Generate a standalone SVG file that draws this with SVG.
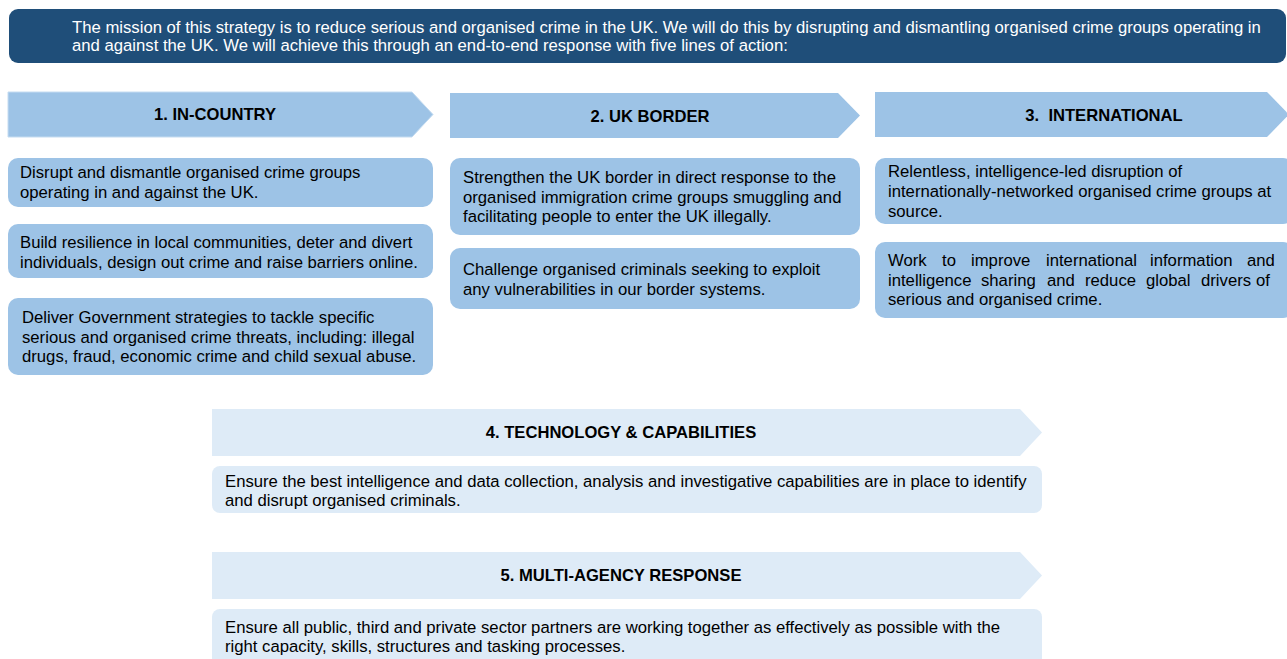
<svg xmlns="http://www.w3.org/2000/svg" width="1287" height="659" viewBox="0 0 1287 659">
<style>
.t{font-family:"Liberation Sans",Arial,sans-serif;font-size:16.7px;fill:#000}
.w{font-family:"Liberation Sans",Arial,sans-serif;font-size:16.7px;fill:#fff}
.h{font-family:"Liberation Sans",Arial,sans-serif;font-size:16.6px;font-weight:bold;fill:#000;text-anchor:middle}
.dk{fill:#9dc3e6}
.lt{fill:#deebf7}
</style>
<rect width="1287" height="659" fill="#fff"/>
<g id="mission">
<rect x="9" y="9" width="1277" height="54" rx="9" fill="#1f4e79"/>
<text class="w" x="72" y="33">The mission of this strategy is to reduce serious and organised crime in the UK. We will do this by disrupting and dismantling organised crime groups operating in</text>
<text class="w" x="72" y="51">and against the UK. We will achieve this through an end-to-end response with five lines of action:</text>
</g>
<g id="head1">
<polygon class="dk" points="8,92 412,92 433,114.5 412,137 8,137" stroke="#c5dcf1" stroke-width="1"/>
<text class="h" x="215" y="120">1. IN-COUNTRY</text>
</g>
<g id="head2">
<polygon class="dk" points="450,93 838,93 860,115.5 838,138 450,138"/>
<text class="h" x="650" y="122">2. UK BORDER</text>
</g>
<g id="head3">
<polygon class="dk" points="875,92 1267,92 1289,114.5 1267,137 875,137"/>
<text class="h" x="1104" y="121" xml:space="preserve">3.  INTERNATIONAL</text>
</g>
<g id="c1b1">
<rect class="dk" x="8" y="158" width="425" height="49" rx="10"/>
<text class="t" x="20" y="178">Disrupt and dismantle organised crime groups</text>
<text class="t" x="20" y="198">operating in and against the UK.</text>
</g>
<g id="c1b2">
<rect class="dk" x="8" y="224" width="425" height="54" rx="10"/>
<text class="t" x="20" y="248">Build resilience in local communities, deter and divert</text>
<text class="t" x="20" y="268">individuals, design out crime and raise barriers online.</text>
</g>
<g id="c1b3">
<rect class="dk" x="8" y="298" width="425" height="77" rx="10"/>
<text class="t" x="22" y="323">Deliver Government strategies to tackle specific</text>
<text class="t" x="22" y="343">serious and organised crime threats, including: illegal</text>
<text class="t" x="22" y="362">drugs, fraud, economic crime and child sexual abuse.</text>
</g>
<g id="c2b1">
<rect class="dk" x="450" y="158" width="410" height="77" rx="10"/>
<text class="t" x="463" y="183">Strengthen the UK border in direct response to the</text>
<text class="t" x="463" y="203">organised immigration crime groups smuggling and</text>
<text class="t" x="463" y="222">facilitating people to enter the UK illegally.</text>
</g>
<g id="c2b2">
<rect class="dk" x="450" y="248" width="410" height="61" rx="10"/>
<text class="t" x="463" y="275">Challenge organised criminals seeking to exploit</text>
<text class="t" x="463" y="295">any vulnerabilities in our border systems.</text>
</g>
<g id="c3b1">
<rect class="dk" x="875" y="158" width="418" height="66" rx="10"/>
<text class="t" x="888" y="177">Relentless, intelligence-led disruption of</text>
<text class="t" x="888" y="197">internationally-networked organised crime groups at</text>
<text class="t" x="888" y="217">source.</text>
</g>
<g id="c3b2">
<rect class="dk" x="875" y="242" width="418" height="76" rx="10"/>
<text class="t" y="266"><tspan x="888">Work</tspan><tspan x="942">to</tspan><tspan x="971">improve</tspan><tspan x="1046">international</tspan><tspan x="1150">information</tspan><tspan x="1247">and</tspan></text>
<text class="t" y="286"><tspan x="888">intelligence</tspan><tspan x="981">sharing</tspan><tspan x="1047">and</tspan><tspan x="1085">reduce</tspan><tspan x="1146">global</tspan><tspan x="1201">drivers</tspan><tspan x="1256">of</tspan></text>
<text class="t" x="888" y="305">serious and organised crime.</text>
</g>
<g id="head4">
<polygon class="lt" points="212,409 1020,409 1042,432.5 1020,456 212,456"/>
<text class="h" x="621" y="438">4. TECHNOLOGY &amp; CAPABILITIES</text>
</g>
<g id="b4">
<rect class="lt" x="212" y="466" width="830" height="47" rx="8"/>
<text class="t" x="225" y="487">Ensure the best intelligence and data collection, analysis and investigative capabilities are in place to identify</text>
<text class="t" x="225" y="506">and disrupt organised criminals.</text>
</g>
<g id="head5">
<polygon class="lt" points="212,552 1020,552 1042,575.5 1020,599 212,599"/>
<text class="h" x="621" y="581">5. MULTI-AGENCY RESPONSE</text>
</g>
<g id="b5">
<rect class="lt" x="212" y="609" width="830" height="60" rx="8"/>
<text class="t" x="225" y="633">Ensure all public, third and private sector partners are working together as effectively as possible with the</text>
<text class="t" x="225" y="652">right capacity, skills, structures and tasking processes.</text>
</g>
<g id="connectors"/>
</svg>
